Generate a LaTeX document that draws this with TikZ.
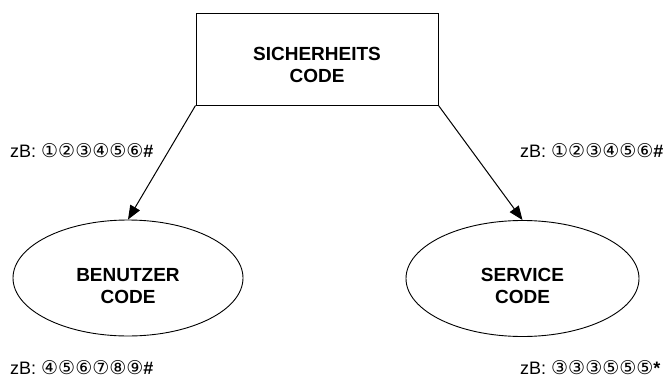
\documentclass[tikz,border=0pt]{standalone}
\usepackage{fontspec}
\setmainfont{Liberation Sans}
\newfontfamily\symfont{DejaVu Sans}
\usetikzlibrary{shapes.geometric,arrows.meta}
\newcommand{\cd}[1]{{\symfont\fontsize{19}{19}\selectfont #1}}
\tikzset{
  frame/.style={draw, line width=1pt, minimum width=242pt, minimum height=92pt, inner sep=0pt},
  oval/.style={draw, ellipse, line width=0.9pt, inner sep=0pt},
  lbl/.style={font=\bfseries\fontsize{19}{22}\selectfont, align=center, inner sep=0pt},
  ex/.style={font=\fontsize{18}{18}\selectfont, anchor=base west, inner sep=0pt},
  arr/.style={line width=1pt, -{Triangle[length=14pt,width=11pt]}}
}
\begin{document}
\begin{tikzpicture}[x=1pt,y=-1pt]
\useasboundingbox (0,0) rectangle (667,380);
\node[frame] (sc) at (317,59) {};
\node[lbl] (sct) at (317,64.5) {SICHERHEITS\\CODE};
\node[oval, minimum width=230pt, minimum height=116pt] (bc) at (128,278) {};
\node[lbl] (bct) at (128,286) {BENUTZER\\CODE};
\node[oval, minimum width=233pt, minimum height=116pt] (svc) at (522.5,278.5) {};
\node[lbl] (svct) at (522.5,286) {SERVICE\\CODE};
\draw[arr] (sc.south west) -- (bc.north);
\draw[arr] (sc.south east) -- (svc.north);
\node[ex] (t1) at (10,157) {zB: \cd{①②③④⑤⑥}\textbf{\#}};
\node[ex] (t2) at (520,157) {zB: \cd{①②③④⑤⑥}\textbf{\#}};
\node[ex] (t3) at (10,374.5) {zB: \cd{④⑤⑥⑦⑧⑨}\textbf{\#}};
\node[ex] (t4) at (520,374.5) {zB: \cd{③③③⑤⑤⑤}\textbf{*}};
\end{tikzpicture}
\end{document}
